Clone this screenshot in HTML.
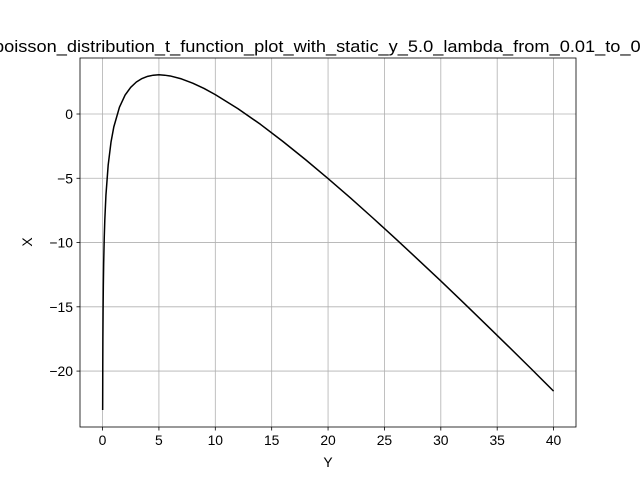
<!DOCTYPE html>
<html><head><meta charset="utf-8"><style>
html,body{margin:0;padding:0;background:#fff;overflow:hidden}
svg{display:block;font-family:"Liberation Sans","DejaVu Sans",sans-serif}
</style></head><body>
<svg id="chart" width="640" height="480" viewBox="0 0 640 480">
<rect x="0" y="0" width="640" height="480" fill="#fff"/>
<g id="grid"></g>
<g id="ticks"></g>
<path id="line" fill="none" stroke="#000" stroke-width="1.5" stroke-linejoin="round"/>
<rect x="80" y="58" width="496" height="369" fill="none" stroke="#000" stroke-width="0.8"/>
<text x="330" y="52" text-anchor="middle" font-size="16.67" textLength="672" lengthAdjust="spacingAndGlyphs" fill="#000">poisson_distribution_t_function_plot_with_static_y_5.0_lambda_from_0.01_to_0.40</text>
<text x="328" y="467" text-anchor="middle" font-size="13.9" fill="#000">Y</text>
<text x="0" y="0" transform="translate(32,242) rotate(-90)" text-anchor="middle" font-size="13.9" fill="#000">X</text>
</svg>
<script>
const lambdas = [0.01,0.02,0.03,0.05,0.07,0.1,0.15,0.2,0.3,0.5,0.75,1,1.5,2,2.5,3,3.5,4,4.5,5,5.5,6,7,8,9,10,12,14,16,18,20,22,24,26,28,30,32,34,36,38,40];
const values = [-23.03,-19.58,-17.56,-15.03,-13.37,-11.61,-9.64,-8.25,-6.32,-3.97,-2.19,-1,0.53,1.47,2.08,2.49,2.76,2.93,3.02,3.05,3.02,2.96,2.73,2.40,1.99,1.51,0.42,-0.80,-2.14,-3.55,-5.02,-6.54,-8.11,-9.71,-11.34,-12.99,-14.67,-16.37,-18.08,-19.81,-21.56];
const xTicks = [0,5,10,15,20,25,30,35,40];
const yTicks = [0,-5,-10,-15,-20];
const yTickLabels = ["0","\u22125","\u221210","\u221215","\u221220"];

const ns = "http://www.w3.org/2000/svg";
const X0=80,X1=576,Y0=58,Y1=427;
const xmin=-1.9995,xmax=41.9895,ymax=4.357,ymin=-24.35;
function sx(v){return X0+(v-xmin)/(xmax-xmin)*(X1-X0);}
function sy(v){return Y0+(ymax-v)/(ymax-ymin)*(Y1-Y0);}

const grid=document.getElementById('grid'), ticks=document.getElementById('ticks');
function mk(tag,attrs,parent){const e=document.createElementNS(ns,tag);for(const k in attrs)e.setAttribute(k,attrs[k]);parent.appendChild(e);return e;}

xTicks.forEach(function(t){
  const x=sx(t);
  const g=mk('line',{x1:x,x2:x,y1:Y0,y2:Y1,stroke:'#b0b0b0','stroke-width':0.8},grid);
  
  
  const tk=mk('line',{x1:x,x2:x,y1:Y1,y2:Y1+3.5,stroke:'#000','stroke-width':0.8},ticks);
  
  
  const lb=mk('text',{x:x,y:Y1+18,'text-anchor':'middle','font-size':13.9,fill:'#000'},ticks);
  lb.textContent=String(t);
  
  
});
yTicks.forEach(function(t,i){
  const y=sy(t);
  const g=mk('line',{x1:X0,x2:X1,y1:y,y2:y,stroke:'#b0b0b0','stroke-width':0.8},grid);
  
  
  const tk=mk('line',{x1:X0-3.5,x2:X0,y1:y,y2:y,stroke:'#000','stroke-width':0.8},ticks);
  
  
  const lb=mk('text',{x:X0-7,y:y+5,'text-anchor':'end','font-size':13.9,fill:'#000'},ticks);
  lb.textContent=yTickLabels[i];
  
  
});
let d='';
lambdas.forEach(function(l,i){d+=(i?'L':'M')+sx(l).toFixed(2)+','+sy(values[i]).toFixed(2);});
document.getElementById('line').setAttribute('d',d);
</script>
</body></html>
